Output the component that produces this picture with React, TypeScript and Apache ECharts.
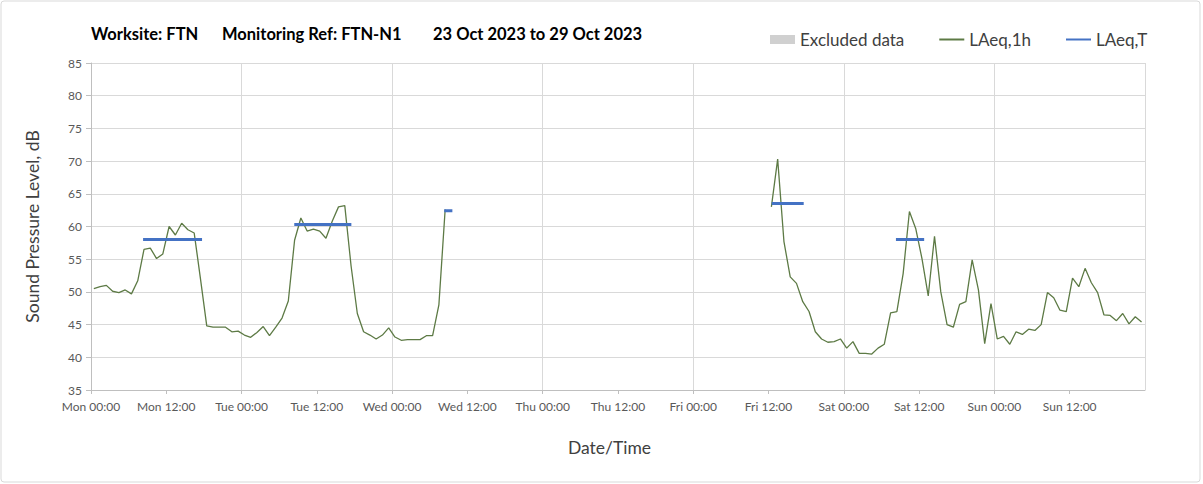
import React, { useEffect, useRef } from "react";
import * as echarts from "echarts";

// Hour index from Mon 00:00 (0..168)
const DAYS = ["Mon", "Tue", "Wed", "Thu", "Fri", "Sat", "Sun"];
const POINT_OFFSET = 0.45; // hourly values plotted slightly after the hour start

// LAeq,1h — first block: Mon 00:00 .. Wed 08:00
const BLOCK_A_START = 0;
const BLOCK_A_VALUES = [
  50.5, 50.8, 51.0, 50.1, 49.9, 50.3, 49.7, 51.7, 56.5, 56.7,
  55.1, 55.8, 60.0, 58.7, 60.5, 59.5, 59.0, 52.0, 44.8, 44.6,
  44.6, 44.6, 43.9, 44.0, 43.4, 43.05, 43.8, 44.7, 43.3, 44.6,
  46.0, 48.6, 57.9, 61.3, 59.3, 59.6, 59.3, 58.2, 60.8, 63.0,
  63.2, 54.0, 46.7, 43.9, 43.4, 42.8, 43.4, 44.5, 43.1, 42.6,
  42.7, 42.7, 42.7, 43.3, 43.3, 48.0, 62.6,
];

// LAeq,1h — second block: Fri 12:00 .. Sun 23:00
const BLOCK_B_START = 108;
const BLOCK_B_VALUES = [
  63.0, 70.3, 57.7, 52.3, 51.3, 48.5, 47.0, 43.9, 42.8, 42.3,
  42.4, 42.8, 41.4, 42.4, 40.6, 40.6, 40.5, 41.4, 42.0, 46.8,
  47.0, 52.8, 62.3, 59.7, 55.1, 49.4, 58.5, 50.0, 45.0, 44.6,
  48.1, 48.5, 54.9, 50.3, 42.1, 48.2, 42.8, 43.2, 42.0, 43.9,
  43.5, 44.3, 44.1, 45.0, 49.9, 49.1, 47.2, 47.0, 52.1, 50.8,
  53.6, 51.4, 49.9, 46.5, 46.4, 45.6, 46.7, 45.1, 46.2, 45.4,
];

// LAeq,T — period segments
const T_STARTS = [8.3, 32.4, 56.3, 108.5, 128.3];
const T_ENDS = [17.7, 41.5, 57.6, 113.6, 132.8];
const T_VALUES = [58.0, 60.3, 62.4, 63.5, 58.0];

const Y_MIN = 35;
const Y_MAX = 85;

export default function App() {
  const ref = useRef<HTMLDivElement>(null);

  useEffect(() => {
    document.body.style.margin = "0";
    if (!ref.current) return;
    const chart = echarts.init(ref.current, undefined, { renderer: "svg" });

    const hourly: any[] = [];
    BLOCK_A_VALUES.forEach((v, i) => hourly.push([BLOCK_A_START + i + POINT_OFFSET, v]));
    hourly.push([BLOCK_A_START + BLOCK_A_VALUES.length + POINT_OFFSET, "-"]);
    BLOCK_B_VALUES.forEach((v, i) => hourly.push([BLOCK_B_START + i + POINT_OFFSET, v]));

    const periods: any[] = [];
    T_STARTS.forEach((s, i) => {
      periods.push([s, T_VALUES[i]]);
      periods.push([T_ENDS[i], T_VALUES[i]]);
      periods.push([T_ENDS[i] + 0.01, "-"]);
    });

    const font = "Lato, 'Open Sans', sans-serif";
    const titleStyle = { fontSize: 16.5, fontWeight: "bold" as const, fill: "#000", fontFamily: font };

    chart.setOption({
      animation: false,
      textStyle: { fontFamily: font },
      grid: { left: 91, right: 58, top: 63, bottom: 94, containLabel: false },
      graphic: [
        {
          type: "rect",
          shape: { x: 1, y: 1, width: 1199, height: 481, r: 3 },
          style: { fill: "none", stroke: "#d9d9d9", lineWidth: 1 },
          silent: true,
        },
        { type: "text", x: 91, y: 34, style: { ...titleStyle, text: "Worksite: FTN", verticalAlign: "middle" } },
        { type: "text", x: 222, y: 34, style: { ...titleStyle, text: "Monitoring Ref: FTN-N1", verticalAlign: "middle" } },
        { type: "text", x: 433, y: 34, style: { ...titleStyle, text: "23 Oct 2023 to 29 Oct 2023", verticalAlign: "middle" } },
      ],
      legend: {
        left: 765,
        top: 26,
        itemWidth: 25,
        itemHeight: 9,
        itemGap: 34,
        textStyle: { fontSize: 17, color: "#404040", fontFamily: font },
        data: [
          { name: "Excluded data", icon: "rect" },
          { name: "LAeq,1h", itemStyle: { opacity: 0 } },
          { name: "LAeq,T", itemStyle: { opacity: 0 } },
        ],
      },
      xAxis: [
        {
          type: "value",
          min: 0,
          max: 168,
          interval: 12,
          name: "Date/Time",
          nameLocation: "middle",
          nameGap: 48,
          nameTextStyle: { fontSize: 17.5, color: "#404040", padding: [0, 17, 0, 0] },
          axisLine: { show: true, lineStyle: { color: "#bfbfbf" } },
          axisTick: { show: true, length: 4, lineStyle: { color: "#bfbfbf" } },
          axisLabel: {
            fontSize: 12,
            color: "#595959",
            margin: 10,
            showMaxLabel: false,
            formatter: (v: number) => {
              if (v >= 168) return "";
              const d = DAYS[Math.floor(v / 24)];
              const h = v % 24 === 0 ? "00" : "12";
              return `${d} ${h}:00`;
            },
          },
          splitLine: { show: false },
        },
        {
          type: "value",
          min: 0,
          max: 168,
          interval: 24,
          position: "bottom",
          axisLine: { show: false },
          axisTick: { show: false },
          axisLabel: { show: false },
          splitLine: { show: true, lineStyle: { color: "#d9d9d9", width: 1 } },
        },
      ],
      yAxis: {
        type: "value",
        min: Y_MIN,
        max: Y_MAX,
        interval: 5,
        name: "Sound Pressure Level, dB",
        nameLocation: "middle",
        nameGap: 50,
        nameTextStyle: { fontSize: 17.5, color: "#404040" },
        axisLine: { show: true, lineStyle: { color: "#bfbfbf" } },
        axisTick: { show: true, length: 5, lineStyle: { color: "#bfbfbf" } },
        axisLabel: { fontSize: 12, color: "#595959", margin: 9 },
        splitLine: { show: true, lineStyle: { color: "#d9d9d9", width: 1 } },
      },
      series: [
        {
          name: "Excluded data",
          type: "line",
          data: [],
          color: "#d0d0d0",
          itemStyle: { color: "#d0d0d0" },
        },
        {
          name: "LAeq,1h",
          type: "line",
          data: hourly,
          symbol: "none",
          connectNulls: false,
          color: "#5d7a45",
          itemStyle: { opacity: 0 },
          lineStyle: { color: "#5d7a45", width: 1.3 },
        },
        {
          name: "LAeq,T",
          type: "line",
          data: periods,
          symbol: "none",
          connectNulls: false,
          color: "#4472c4",
          itemStyle: { opacity: 0 },
          lineStyle: { color: "#4472c4", width: 3 },
          z: 3,
        },
      ],
    });

    return () => chart.dispose();
  }, []);

  return <div ref={ref} style={{ width: 1203, height: 484 }} />;
}
